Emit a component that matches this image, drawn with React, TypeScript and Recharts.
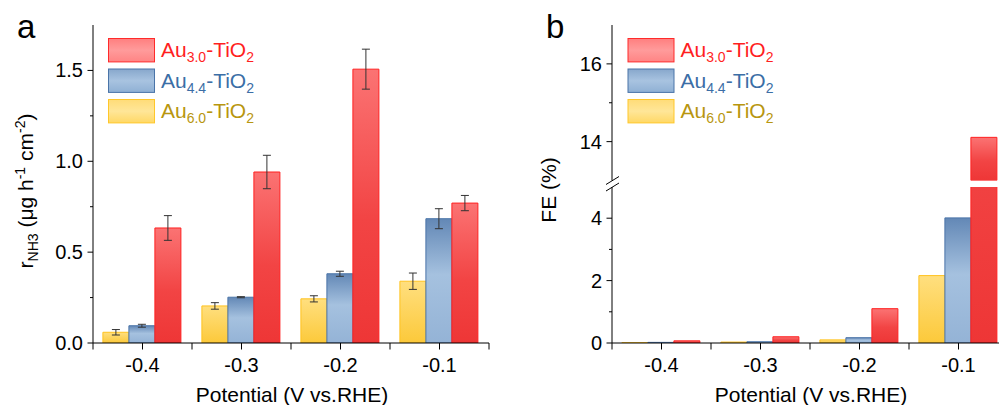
import React from 'react';
import { BarChart, Bar, XAxis, YAxis, ErrorBar } from 'recharts';

const FONT = '"Liberation Sans", Arial, Helvetica, sans-serif';

// ---------- data ----------
const potentials = ['-0.4', '-0.3', '-0.2', '-0.1'];

const rateAu30 = [0.633, 0.941, 1.507, 0.770];
const rateAu30Err = [0.068, 0.092, 0.110, 0.042];
const rateAu44 = [0.095, 0.252, 0.381, 0.684];
const rateAu44Err = [0.008, 0.003, 0.014, 0.055];
const rateAu60 = [0.059, 0.204, 0.243, 0.340];
const rateAu60Err = [0.015, 0.018, 0.017, 0.045];

const feAu30 = [0.07, 0.20, 1.10, 14.11];
const feAu44 = [0.02, 0.04, 0.17, 4.01];
const feAu60 = [0.01, 0.03, 0.10, 2.16];

const rateTicks = [0, 0.25, 0.5, 0.75, 1.0, 1.25, 1.5];
const rateLabeled = [0, 0.5, 1.0, 1.5];
const rateDomain = [0, 1.75];

const feLowerTicks = [0, 1, 2, 3, 4];
const feUpperTicks = [14, 15, 16];
const feLabeled = [0, 2, 4, 14, 16];
const feLowerDomain = [0, 5];
const feUpperDomain = [13, 17];

const legendSubs = ['3.0', '4.4', '6.0'];

// ---------- tables ----------
const rateData = potentials.map((p, i) => ({
  cat: p,
  au60: rateAu60[i], au60Err: rateAu60Err[i],
  au44: rateAu44[i], au44Err: rateAu44Err[i],
  au30: rateAu30[i], au30Err: rateAu30Err[i],
}));

const feLowerData = potentials.map((p, i) => ({
  cat: p, au60: feAu60[i], au44: feAu44[i], au30: feAu30[i],
}));

const above = (v: number) => (v > feUpperDomain[0] ? v : null);
const feUpperData = potentials.map((p, i) => ({
  cat: p, au60: above(feAu60[i]), au44: above(feAu44[i]), au30: above(feAu30[i]),
}));

const series = [
  { key: 'au60', fill: 'url(#gradY)', stroke: '#ffc21f' },
  { key: 'au44', fill: 'url(#gradB)', stroke: '#4a74a8' },
  { key: 'au30', fill: 'url(#gradR)', stroke: '#ff2121' },
];

const BAND = 99;
const TICK_FS = 20;

// ---------- ticks ----------
const makeYTick = (labeled: number[], decimals: number) => (props: any) => {
  const { x, y, payload } = props;
  const v = payload.value;
  const major = labeled.includes(v);
  return (
    <g>
      <line x1={x - (major ? 5.5 : 3)} x2={x} y1={y} y2={y} stroke="#000" strokeWidth={1} />
      {major && (
        <text x={x - 10} y={y} dy={7} textAnchor="end" fontSize={TICK_FS} fontFamily={FONT} fill="#000">
          {v.toFixed(decimals)}
        </text>
      )}
    </g>
  );
};

const XTick = (props: any) => {
  const { x, y, payload } = props;
  const last = payload.value === potentials[potentials.length - 1];
  return (
    <g>
      <line x1={x} x2={x} y1={y} y2={y + 6.5} stroke="#000" strokeWidth={1} />
      <line x1={x - BAND / 2} x2={x - BAND / 2} y1={y} y2={y + 6.5} stroke="#000" strokeWidth={1} />
      {last && <line x1={x + BAND / 2} x2={x + BAND / 2} y1={y} y2={y + 6.5} stroke="#000" strokeWidth={1} />}
      <text x={x} y={y + 28.8} textAnchor="middle" fontSize={TICK_FS} fontFamily={FONT} fill="#000">
        {payload.value}
      </text>
    </g>
  );
};

const axisLine = { stroke: '#000', strokeWidth: 1 };

// ---------- legend ----------
const legendItems = [
  { sub: legendSubs[0], text: '#ff1f1f', fill: 'url(#legR)', stroke: '#ff2a2a' },
  { sub: legendSubs[1], text: '#3b6ea6', fill: 'url(#legB)', stroke: '#4a74a8' },
  { sub: legendSubs[2], text: '#b8960f', fill: 'url(#legY)', stroke: '#ffc72a' },
];

const LegendBlock = ({ x0, y0 }: { x0: number; y0: number }) => (
  <g>
    {legendItems.map((it, i) => {
      const top = y0 + i * 30.5;
      return (
        <g key={i}>
          <rect x={x0} y={top} width={46} height={23.4} fill={it.fill} stroke={it.stroke} strokeWidth={1} />
          <text x={x0 + 52.5} y={top + 18.5} fontSize={21} fontFamily={FONT} fill={it.text}>
            Au<tspan dy={5} fontSize={14}>{it.sub}</tspan>
            <tspan dy={-5}>-TiO</tspan>
            <tspan dy={5} fontSize={14}>2</tspan>
          </text>
        </g>
      );
    })}
  </g>
);

const Gradients = () => (
  <svg width={0} height={0} style={{ position: 'absolute' }}>
    <defs>
      <linearGradient id="gradR" x1="0" y1="0" x2="0" y2="1">
        <stop offset="0%" stopColor="#fb7373" />
        <stop offset="55%" stopColor="#f24444" />
        <stop offset="100%" stopColor="#ee3636" />
      </linearGradient>
      <linearGradient id="gradB" x1="0" y1="0" x2="0" y2="1">
        <stop offset="0%" stopColor="#6388b6" />
        <stop offset="45%" stopColor="#a5c1df" />
        <stop offset="100%" stopColor="#94b3d6" />
      </linearGradient>
      <linearGradient id="gradY" x1="0" y1="0" x2="0" y2="1">
        <stop offset="0%" stopColor="#ffdf7f" />
        <stop offset="100%" stopColor="#fcc93a" />
      </linearGradient>
      <linearGradient id="legR" x1="0" y1="0" x2="0" y2="1">
        <stop offset="0%" stopColor="#ff7f7f" />
        <stop offset="50%" stopColor="#ff9b9b" />
        <stop offset="100%" stopColor="#ff8484" />
      </linearGradient>
      <linearGradient id="legB" x1="0" y1="0" x2="0" y2="1">
        <stop offset="0%" stopColor="#87a7cc" />
        <stop offset="50%" stopColor="#a8c3e0" />
        <stop offset="100%" stopColor="#8fb0d4" />
      </linearGradient>
      <linearGradient id="legY" x1="0" y1="0" x2="0" y2="1">
        <stop offset="0%" stopColor="#ffdc78" />
        <stop offset="50%" stopColor="#ffe698" />
        <stop offset="100%" stopColor="#ffd865" />
      </linearGradient>
    </defs>
  </svg>
);

// ---------- charts ----------
const PanelA = () => (
  <BarChart width={500} height={405} data={rateData}
    margin={{ top: 25, right: 11, bottom: 32, left: 33 }}
    barCategoryGap="10%" barGap={0}>
    <XAxis dataKey="cat" height={30} interval={0} tickSize={0} tickMargin={0} tickLine={false}
      tick={<XTick />} axisLine={axisLine} />
    <XAxis xAxisId="top" orientation="top" dataKey="cat" height={0} tick={false} tickLine={false} axisLine={axisLine} />
    <YAxis type="number" width={60} domain={rateDomain} ticks={rateTicks} interval={0} allowDataOverflow
      tickSize={0} tickMargin={0} tickLine={false} tick={makeYTick(rateLabeled, 1)} axisLine={axisLine} />
    <YAxis yAxisId="right" orientation="right" width={0} domain={[0, 1]} tick={false} tickLine={false} axisLine={axisLine} />
    {series.map((s) => (
      <Bar key={s.key} dataKey={s.key} fill={s.fill} stroke={s.stroke} strokeWidth={1} isAnimationActive={false}>
        <ErrorBar dataKey={s.key + 'Err'} width={4} stroke="#333" strokeWidth={1} />
      </Bar>
    ))}
  </BarChart>
);

const PanelBUpper = () => (
  <BarChart width={520} height={405} data={feUpperData}
    margin={{ top: 25, right: 12, bottom: 224.5, left: 52 }}
    barCategoryGap="10%" barGap={0}>
    <XAxis dataKey="cat" hide />
    <XAxis xAxisId="top" orientation="top" dataKey="cat" height={0} tick={false} tickLine={false} axisLine={axisLine} />
    <YAxis type="number" width={60} domain={feUpperDomain} ticks={feUpperTicks} interval={0} allowDataOverflow
      tickSize={0} tickMargin={0} tickLine={false} tick={makeYTick(feLabeled, 0)} axisLine={axisLine} />
    {series.map((s) => (
      <Bar key={s.key} dataKey={s.key} fill={s.fill} stroke={s.stroke} strokeWidth={1} isAnimationActive={false} />
    ))}
  </BarChart>
);

const PanelBLower = () => (
  <BarChart width={520} height={405} data={feLowerData}
    margin={{ top: 187, right: 12, bottom: 32, left: 52 }}
    barCategoryGap="10%" barGap={0}>
    <XAxis dataKey="cat" height={30} interval={0} tickSize={0} tickMargin={0} tickLine={false}
      tick={<XTick />} axisLine={axisLine} />
    <YAxis type="number" width={60} domain={feLowerDomain} ticks={feLowerTicks} interval={0} allowDataOverflow
      tickSize={0} tickMargin={0} tickLine={false} tick={makeYTick(feLabeled, 0)} axisLine={axisLine} />
    {series.map((s) => (
      <Bar key={s.key} dataKey={s.key} fill={s.fill} stroke={s.stroke} strokeWidth={1} isAnimationActive={false} />
    ))}
  </BarChart>
);

const Overlay = () => (
  <svg width={999} height={405} style={{ position: 'absolute', left: 0, top: 0, pointerEvents: 'none' }}>
    {/* panel letters */}
    <text x={17} y={38} fontSize={33} fontFamily={FONT} fill="#000">a</text>
    <text x={546} y={38} fontSize={33} fontFamily={FONT} fill="#000">b</text>

    {/* y titles */}
    <text transform="rotate(-90 33 191)" x={33} y={191} textAnchor="middle" fontSize={21} fontFamily={FONT} fill="#000">
      r<tspan dy={5} fontSize={14}>NH3</tspan>
      <tspan dy={-5}> (μg h</tspan>
      <tspan dy={-8} fontSize={14}>-1</tspan>
      <tspan dy={8}> cm</tspan>
      <tspan dy={-8} fontSize={14}>-2</tspan>
      <tspan dy={8}>)</tspan>
    </text>
    <text transform="rotate(-90 556 190)" x={556} y={190} textAnchor="middle" fontSize={21} fontFamily={FONT} fill="#000">
      FE (%)
    </text>

    {/* x titles */}
    <text x={292} y={401.5} textAnchor="middle" fontSize={21} fontFamily={FONT} fill="#000">Potential (V vs.RHE)</text>
    <text x={811} y={401.5} textAnchor="middle" fontSize={21} fontFamily={FONT} fill="#000">Potential (V vs.RHE)</text>

    {/* axis break marks */}
    <line x1={606} y1={184.5} x2={619} y2={176.5} stroke="#000" strokeWidth={1} />
    <line x1={606} y1={191} x2={619} y2={183} stroke="#000" strokeWidth={1} />

    <LegendBlock x0={108.5} y0={38.5} />
    <LegendBlock x0={628} y0={38.5} />
  </svg>
);

export default function App() {
  return (
    <div style={{ position: 'absolute', left: 0, top: 0, width: 999, height: 405, overflow: 'hidden', background: '#fff', fontFamily: FONT }}>
      <Gradients />
      <div style={{ position: 'absolute', left: 0, top: 0 }}><PanelA /></div>
      <div style={{ position: 'absolute', left: 500, top: 0 }}><PanelBUpper /></div>
      <div style={{ position: 'absolute', left: 500, top: 0 }}><PanelBLower /></div>
      <Overlay />
    </div>
  );
}
